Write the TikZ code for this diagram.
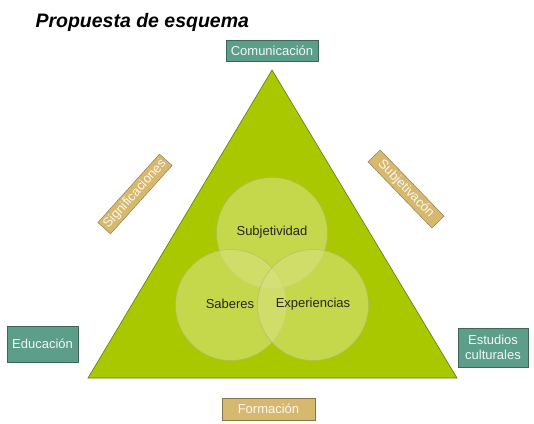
\documentclass[tikz,border=0pt]{standalone}
\usepackage{fontspec}
\setmainfont{Liberation Sans}
\usetikzlibrary{positioning}
\definecolor{trigreen}{HTML}{AAC800}
\definecolor{triedge}{HTML}{5E7C10}
\definecolor{ringfill}{HTML}{D8E27E}
\definecolor{ringedge}{HTML}{AEB67C}
\definecolor{tealbox}{HTML}{5C9E89}
\definecolor{tealedge}{HTML}{3B6658}
\definecolor{tanbox}{HTML}{D6B96F}
\definecolor{tanedge}{HTML}{86744A}
\tikzset{
  tealtag/.style={draw=tealedge,fill=tealbox,text=white!92!tealbox,
    font=\fontsize{13}{14.5}\selectfont,inner sep=0pt,align=center},
  tantag/.style={draw=tanedge,fill=tanbox,text=white!90!tanbox,
    font=\fontsize{13}{14.5}\selectfont,inner sep=0pt,align=center},
  ring/.style={draw=ringedge,fill=ringfill,fill opacity=0.6,circle,
    minimum size=111pt,inner sep=0pt},
  ringlabel/.style={font=\fontsize{13}{15}\selectfont,text=black!85}
}
\begin{document}
\begin{tikzpicture}[x=1pt,y=-1pt]
    \useasboundingbox[fill=white] (0,0) rectangle (534,423);

    % Title
    \node[font=\fontsize{19.5}{24}\selectfont\bfseries\itshape,anchor=west] (title) at (32,22) {Propuesta de esquema};

    % Triangle
    \coordinate (apex) at (272,70);
    \coordinate (left) at (88,378);
    \coordinate (right) at (457,378);
    \filldraw[fill=trigreen,draw=triedge,line width=0.6pt] (apex) -- (right) -- (left) -- cycle;

    % Rings
    \node[ring] (subj) at (272,233) {};
    \node[ring] (sab) at (231,305) {};
    \node[ring] (exp) at (313,305) {};

    % Labels
    \node[ringlabel] (subjtext) at (272,232) {Subjetividad};
    \node[ringlabel] (sabtext) at (230,304) {Saberes};
    \node[ringlabel] (exptext) at (313,304) {Experiencias};

    % Corner tags
    \node[tealtag,minimum width=92pt,minimum height=21pt] (com) at (272,50.5) {Comunicación};
    \node[tealtag,minimum width=71pt,minimum height=36pt] (edu) at (42.5,344) {Educación};
    \node[tealtag,minimum width=70pt,minimum height=39pt] (est) at (493,347.5) {Estudios\\culturales};

    % Side tags
    \node[tantag,minimum width=93pt,minimum height=22pt] (form) at (268.5,409) {Formación};
    \node[tantag,minimum width=92pt,minimum height=17pt,rotate=48] (sig) at (135,194) {Significaciones};
    \node[tantag,minimum width=92pt,minimum height=17pt,rotate=-46] (subjv) at (406,189) {Subjetivacón};
\end{tikzpicture}
\end{document}
